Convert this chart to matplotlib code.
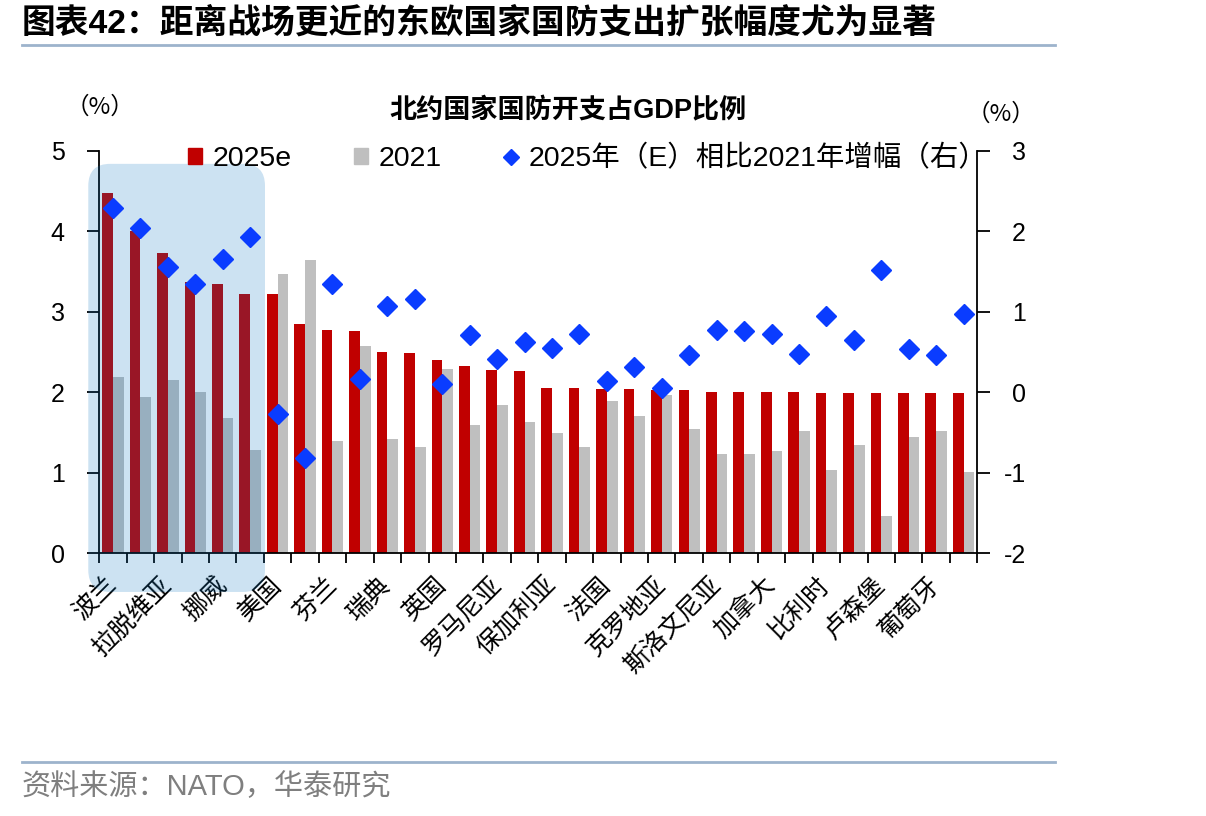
import numpy as np
import matplotlib
matplotlib.use("Agg")
import matplotlib.pyplot as plt
from matplotlib.patches import FancyBboxPatch, Patch
from matplotlib.lines import Line2D

plt.rcParams["font.family"] = ["Liberation Sans", "Noto Sans CJK SC"]
plt.rcParams["axes.unicode_minus"] = False

# data
countries = ["波兰", "立陶宛", "拉脱维亚", "爱沙尼亚", "挪威", "丹麦", "美国", "希腊",
             "芬兰", "北马其顿", "瑞典", "荷兰", "英国", "德国", "罗马尼亚", "匈牙利",
             "保加利亚", "捷克", "法国", "阿尔巴尼亚", "克罗地亚", "黑山", "斯洛文尼亚", "土耳其",
             "加拿大", "意大利", "比利时", "斯洛伐克", "卢森堡", "土耳其", "葡萄牙", "西班牙"]
v2025 = [4.48, 4.00, 3.73, 3.37, 3.35, 3.22, 3.22, 2.85, 2.77, 2.76, 2.50, 2.49,
         2.40, 2.33, 2.28, 2.27, 2.06, 2.06, 2.04, 2.04, 2.03, 2.03, 2.01, 2.01,
         2.01, 2.01, 1.99, 1.99, 1.99, 1.99, 1.99, 1.99]
v2021 = [2.19, 1.94, 2.16, 2.01, 1.68, 1.29, 3.47, 3.65, 1.40, 2.58, 1.42, 1.32,
         2.29, 1.60, 1.84, 1.63, 1.50, 1.32, 1.89, 1.71, 1.97, 1.55, 1.24, 1.24,
         1.27, 1.52, 1.04, 1.35, 0.46, 1.45, 1.52, 1.01]
change = [2.29, 2.04, 1.56, 1.35, 1.66, 1.93, -0.27, -0.82, 1.35, 0.17, 1.07, 1.16,
          0.10, 0.71, 0.42, 0.63, 0.55, 0.73, 0.14, 0.32, 0.06, 0.47, 0.77, 0.76,
          0.73, 0.48, 0.95, 0.65, 1.52, 0.54, 0.47, 0.97]

RED = "#C00000"
GREY = "#BFBFBF"
BLUE = "#0A3CFF"
CJK = ["Noto Sans CJK SC"]

fig = plt.figure(figsize=(12.06, 8.16), dpi=100)
ax = fig.add_axes([0.0823, 0.3219, 0.7281, 0.4931])
ax2 = ax.twinx()

x = np.arange(len(countries))
w = 0.39
ax.bar(x - w / 2, v2025, w, color=RED, zorder=2)
ax.bar(x + w / 2, v2021, w, color=GREY, zorder=2)
ax2.plot(x, change, linestyle="none", marker="D", ms=10.5, color=BLUE, zorder=5)

ax.set_xlim(-0.5, len(countries) - 0.5)
ax.set_ylim(0, 5)
ax2.set_ylim(-2, 3)
ax.set_yticks(range(0, 6))
ax2.set_yticks(range(-2, 4))

# ticks at category boundaries, labels on every other category
ax.set_xticks(np.arange(-0.5, len(countries), 1.0))
ax.set_xticklabels([])
ax.set_xticks(x[::2], countries[::2], minor=True)
ax.tick_params(axis="x", which="major", length=7, width=1.3, direction="out")
ax.tick_params(axis="x", which="minor", length=0, pad=20)
for t in ax.get_xticklabels(minor=True):
    t.set_rotation(45)
    t.set_rotation_mode("anchor")
    t.set_ha("right")
    t.set_va("center")
    t.set_fontsize(18)
    t.set_family(CJK)

ax.tick_params(axis="y", length=9, width=1.3, pad=16, labelsize=18)
ax2.tick_params(axis="y", length=9, width=1.3, pad=26, labelsize=18)
for t in ax2.get_yticklabels():
    t.set_ha("right")

for a in (ax, ax2):
    a.spines["top"].set_visible(False)
    for s in a.spines.values():
        s.set_linewidth(1.3)
ax.spines["right"].set_visible(False)
ax2.spines["left"].set_visible(False)
ax2.spines["bottom"].set_visible(False)

# highlight box for eastern europe
box = FancyBboxPatch((-0.90, -0.48), 6.44, 5.32,
                     boxstyle="round,pad=0,rounding_size=0.8",
                     mutation_aspect=0.34, facecolor="#0070C0", alpha=0.2,
                     edgecolor="none", clip_on=False, zorder=3,
                     transform=ax.transData)
ax.add_patch(box)

handles = [Patch(color=RED), Patch(color=GREY),
           Line2D([], [], linestyle="none", marker="D", ms=8, color=BLUE)]
labels = ["2025e", "2021", "2025年（E）相比2021年增幅（右）"]
ax2.legend(handles, labels, loc="center left", bbox_to_anchor=(0.156, 0.806),
           bbox_transform=fig.transFigure, ncol=3, frameon=False, fontsize=20.5,
           borderpad=0, borderaxespad=0, handlelength=0.5, handleheight=0.5,
           handletextpad=0.35, columnspacing=2.2)

fig.text(0.471, 0.863, "北约国家国防开支占GDP比例", ha="center", va="center",
         fontsize=19.5, fontweight="bold")
fig.text(0.083, 0.868, "（%）", ha="center", va="center", fontsize=17, family=CJK)
fig.text(0.830, 0.860, "（%）", ha="center", va="center", fontsize=17, family=CJK)

# header / footer
fig.text(0.018, 0.972, "图表42：距离战场更近的东欧国家国防支出扩张幅度尤为显著",
         ha="left", va="center", fontsize=24.3, fontweight="bold")
fig.add_artist(Line2D([0.018, 0.875], [0.945, 0.945], transform=fig.transFigure,
                      color="#9DB3CC", lw=2))
fig.add_artist(Line2D([0.018, 0.875], [0.066, 0.066], transform=fig.transFigure,
                      color="#9DB3CC", lw=2))
fig.text(0.018, 0.035, "资料来源：NATO，华泰研究", ha="left", va="center",
         fontsize=21, color="#7F7F7F")

fig.savefig("out.png", dpi=100)
